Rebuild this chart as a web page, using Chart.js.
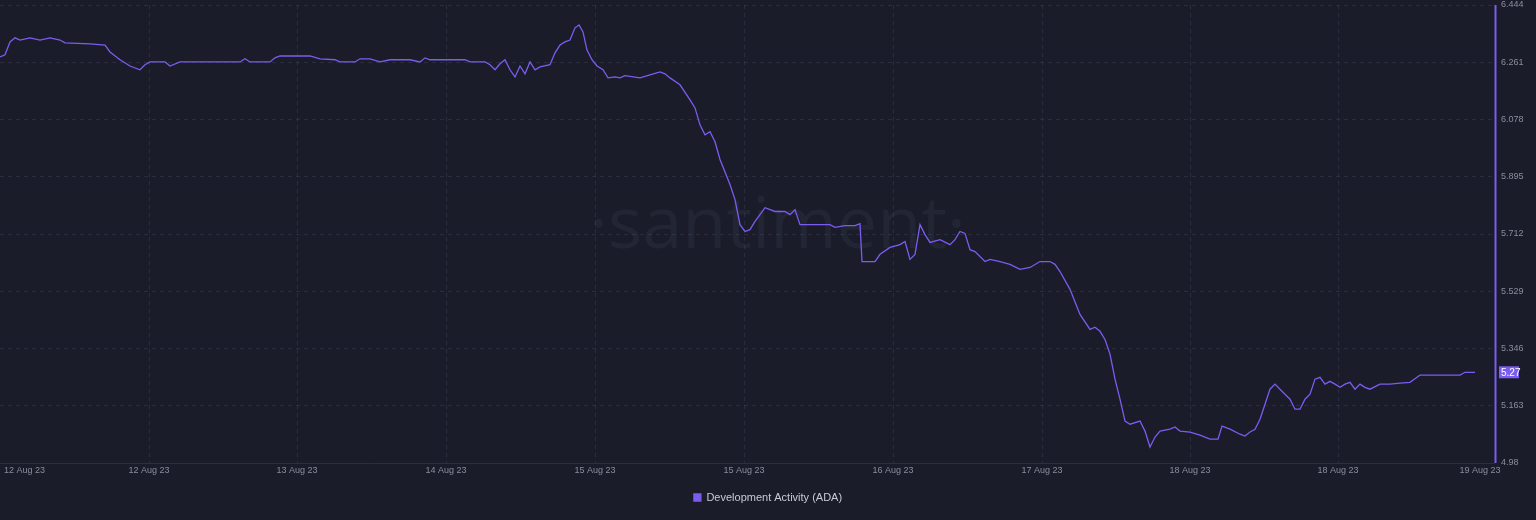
<!DOCTYPE html>
<html><head><meta charset="utf-8">
<script src="https://cdn.jsdelivr.net/npm/chart.js@4"></script>
<style>html,body{margin:0;background:#1a1c2a;}#w{width:1536px;height:520px;position:relative}</style>
</head><body><div id="w"><canvas id="c"></canvas></div>
<script>
const times=[0,5,10,15,20,30,40,50,60,65,90,105,110,120,130,140,145,150,165,170,180,240,245,250,270,275,280,310,320,335,340,355,360,370,380,390,410,420,425,430,465,470,485,490,495,500,505,510,515,520,525,530,535,540,550,555,560,565,570,575,579,583,587,592,597,603,608,615,620,625,640,650,660,665,670,680,690,695,700,705,710,715,720,730,735,740,745,750,755,760,765,775,785,790,795,800,830,835,845,855,860,862,875,880,890,900,905,910,915,920,925,930,940,950,955,960,965,970,975,985,990,1000,1010,1020,1030,1040,1050,1055,1060,1070,1080,1090,1095,1100,1105,1110,1115,1120,1125,1130,1140,1145,1150,1155,1160,1170,1175,1180,1190,1200,1210,1218,1222,1230,1240,1245,1250,1255,1260,1265,1270,1275,1280,1285,1290,1295,1300,1305,1310,1315,1320,1325,1330,1335,1340,1345,1350,1355,1360,1365,1370,1380,1390,1400,1410,1420,1460,1465,1475];
const values=[6.278,6.285,6.326,6.339,6.332,6.339,6.332,6.339,6.332,6.323,6.320,6.316,6.294,6.269,6.249,6.237,6.253,6.262,6.262,6.249,6.262,6.262,6.272,6.262,6.262,6.275,6.281,6.281,6.272,6.269,6.262,6.262,6.272,6.272,6.262,6.269,6.269,6.262,6.275,6.269,6.269,6.262,6.262,6.253,6.237,6.256,6.269,6.237,6.214,6.249,6.224,6.262,6.237,6.246,6.253,6.291,6.316,6.326,6.332,6.371,6.380,6.358,6.300,6.269,6.249,6.237,6.211,6.214,6.211,6.218,6.211,6.221,6.230,6.224,6.211,6.189,6.141,6.115,6.061,6.029,6.039,6.007,5.950,5.870,5.822,5.742,5.720,5.726,5.752,5.774,5.796,5.784,5.784,5.774,5.790,5.742,5.742,5.733,5.739,5.739,5.745,5.624,5.624,5.647,5.669,5.678,5.688,5.631,5.647,5.742,5.710,5.685,5.694,5.678,5.694,5.720,5.714,5.662,5.656,5.624,5.631,5.624,5.615,5.599,5.605,5.624,5.624,5.615,5.592,5.535,5.455,5.407,5.414,5.401,5.375,5.328,5.248,5.184,5.114,5.104,5.114,5.082,5.031,5.063,5.082,5.088,5.095,5.082,5.079,5.069,5.056,5.056,5.098,5.088,5.072,5.066,5.079,5.088,5.120,5.168,5.216,5.232,5.216,5.200,5.184,5.152,5.152,5.184,5.200,5.248,5.254,5.232,5.241,5.232,5.222,5.232,5.238,5.216,5.232,5.222,5.216,5.232,5.232,5.235,5.238,5.261,5.261,5.270,5.270];
const xTickPos=[0,149,297,446,595,744,893,1042,1190,1338,1480];
const xTickLabels=['12 Aug 23','12 Aug 23','13 Aug 23','14 Aug 23','15 Aug 23','15 Aug 23','16 Aug 23','17 Aug 23','18 Aug 23','18 Aug 23','19 Aug 23'];
const yTicks=[4.98,5.163,5.346,5.529,5.712,5.895,6.078,6.261,6.444];
const seriesName='Development Activity (ADA)';
const purple='#7b5cf0';
const deco={id:'deco',
 beforeDatasetsDraw(ch){const c=ch.ctx,a=ch.chartArea;c.save();c.font='72px "Open Sans"';c.fillStyle='rgba(120,130,160,0.09)';c.textAlign='center';c.textBaseline='middle';c.fillText('·santiment·',(a.left+a.right)/2+30,a.top+222);c.restore();},
 afterDatasetsDraw(ch){const c=ch.ctx,a=ch.chartArea,y=ch.scales.y,x=ch.scales.x;c.save();c.strokeStyle='#2c2f42';c.lineWidth=1;c.beginPath();c.moveTo(a.left,a.bottom+0.5);c.lineTo(a.right,a.bottom+0.5);c.stroke();
  c.strokeStyle=purple;c.lineWidth=2;c.beginPath();c.moveTo(a.right+0.5,a.top);c.lineTo(a.right+0.5,a.bottom);c.stroke();
  c.fillStyle='#8a8d9c';c.font='9px "Liberation Sans"';c.textBaseline='top';
  xTickPos.forEach((p,i)=>{let px=x.getPixelForValue(p);c.textAlign=i===0?'left':'center';if(i===0)px=4;c.fillText(xTickLabels[i],px,a.bottom+3);});
  c.textAlign='left';c.textBaseline='middle';
  yTicks.forEach(t=>{c.fillText(t.toFixed(t==4.98?2:3),a.right+6,y.getPixelForValue(t));});
  const v=values[values.length-1],py=y.getPixelForValue(v);c.fillStyle='#7b5cf0';c.fillRect(a.right+4,py-6,20,12);c.fillStyle='#fff';c.font='10px "Liberation Sans"';c.fillText(v.toFixed(2),a.right+6,py+0.5);c.restore();}};
new Chart(document.getElementById('c'),{type:'line',
 data:{datasets:[{label:seriesName,data:times.map((t,i)=>({x:t,y:values[i]})),borderColor:purple,backgroundColor:purple,borderWidth:1.3,pointRadius:0,tension:0}]},
 options:{responsive:true,maintainAspectRatio:false,animation:false,
  layout:{padding:{top:5,left:0,right:0,bottom:7}},
  plugins:{legend:{position:'bottom',labels:{color:'#c8cad6',font:{size:11,family:'"Liberation Sans"'},boxWidth:7,boxHeight:7,padding:14}},tooltip:{enabled:false}},
  scales:{
   x:{type:'linear',min:0,max:1495,afterFit(s){s.height=15;},afterBuildTicks(s){s.ticks=xTickPos.map(v=>({value:v}));},
      ticks:{display:false},
      grid:{color:(c)=>c.index===0||c.index===10?'rgba(0,0,0,0)':'rgba(80,85,110,0.3)',drawTicks:false},border:{display:false,dash:[4,4]}},
   y:{position:'right',min:4.98,max:6.444,afterFit(s){s.width=41;},afterBuildTicks(s){s.ticks=yTicks.map(v=>({value:v}));},
      ticks:{display:false},
      grid:{color:'rgba(80,85,110,0.3)',drawTicks:false},border:{display:false,dash:[4,4]}}
  }},
 plugins:[deco]});
</script></body></html>
